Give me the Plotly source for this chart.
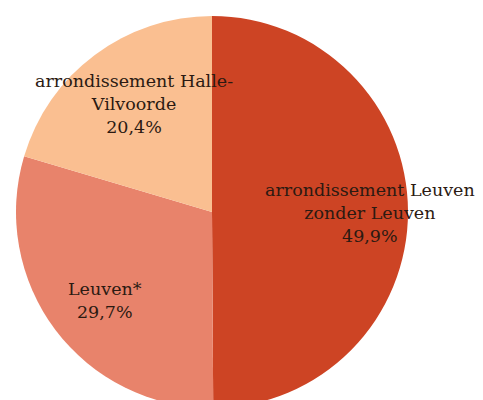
import plotly.graph_objects as go

labels = ["arrondissement Leuven zonder Leuven", "Leuven*", "arrondissement Halle-Vilvoorde"]
label_lines = [
    ["arrondissement Leuven", "zonder Leuven"],
    ["Leuven*"],
    ["arrondissement Halle-", "Vilvoorde"],
]
shares = [49.9, 29.7, 20.4]
colors = ["#CD4424", "#E8836B", "#FABF91"]

# label centres (paper coords) for each slice
label_pos = [(362 / 483, 1 - 205 / 400), (97 / 483, 1 - 292 / 400), (126 / 483, 1 - 96 / 400)]

fig = go.Figure(
    go.Pie(
        labels=labels,
        values=shares,
        sort=False,
        direction="clockwise",
        rotation=0,
        marker=dict(colors=colors, line=dict(width=0)),
        textinfo="none",
        hoverinfo="label+percent",
        showlegend=False,
        domain=dict(x=[8 / 483, 400 / 483], y=[0, 1 - 8 / 400]),
    )
)

for lines, val, (x, y) in zip(label_lines, shares, label_pos):
    txt = "<br>".join(lines + [f"{val:.1f}%".replace(".", ",")])
    fig.add_annotation(
        x=x, y=y, xref="paper", yref="paper",
        text=txt, showarrow=False,
        xanchor="center", yanchor="middle",
        font=dict(family="DejaVu Serif", size=17.5, color="#2b1a12"),
    )

fig.update_layout(
    width=483,
    height=400,
    margin=dict(l=0, r=0, t=0, b=0),
    paper_bgcolor="white",
    plot_bgcolor="white",
)

fig.write_html("out.html")
